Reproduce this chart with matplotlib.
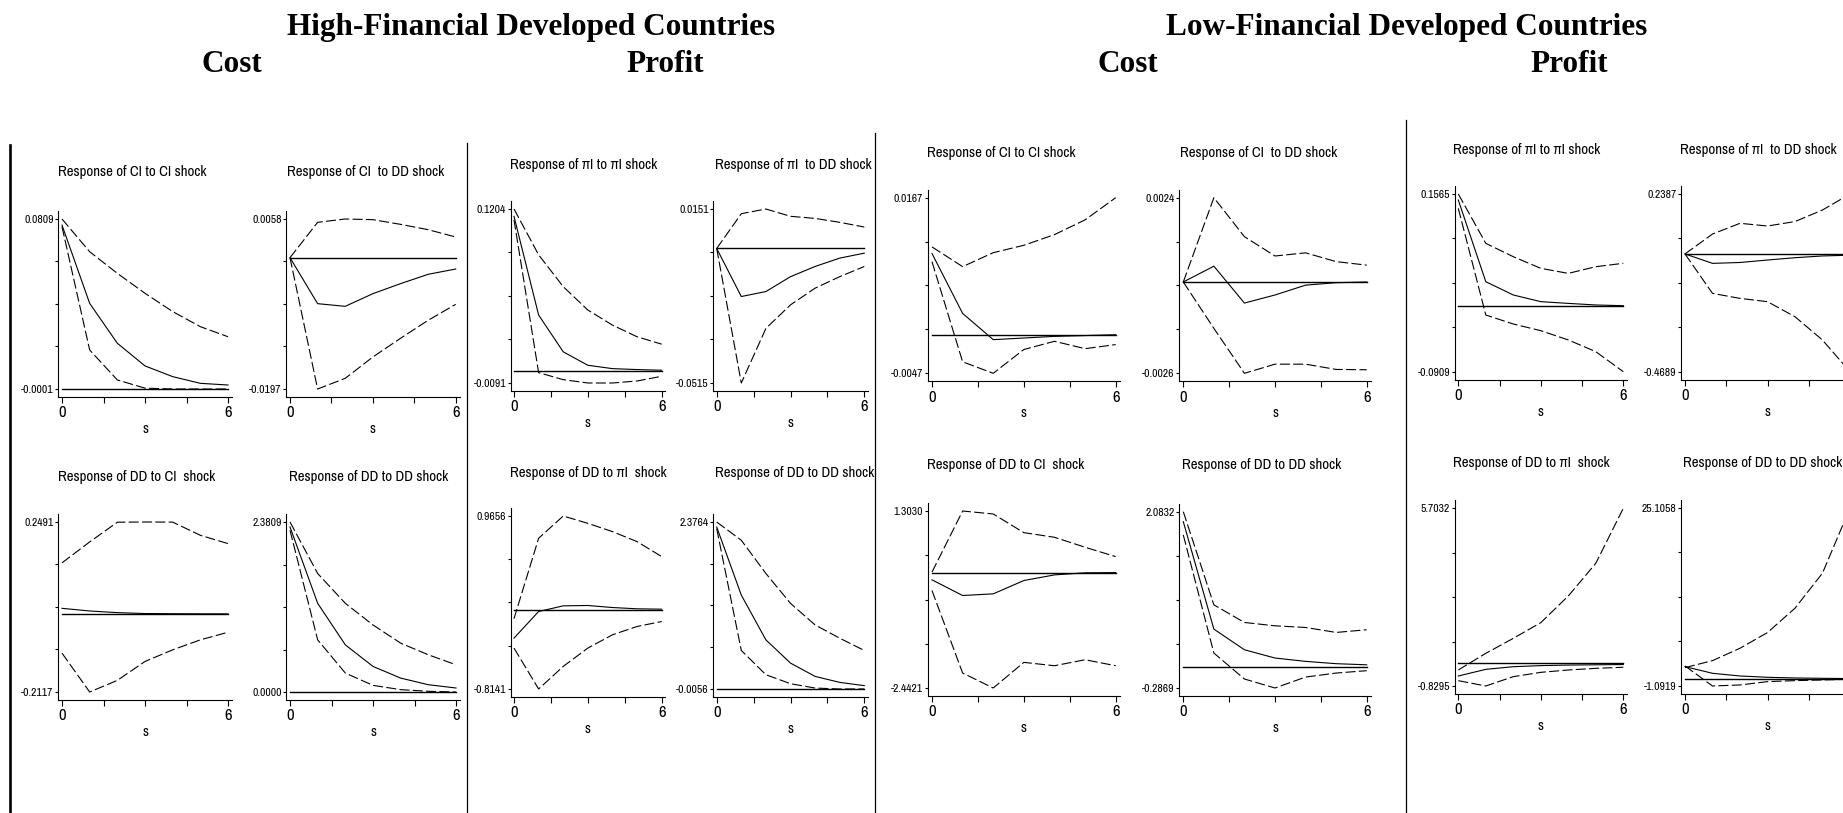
import matplotlib
matplotlib.use("Agg")
import matplotlib.pyplot as plt
from matplotlib import font_manager
from matplotlib.font_manager import FontProperties
from matplotlib.lines import Line2D

# Periods after the shock
steps = [0, 1, 2, 3, 4, 5, 6]

# High-financial developed countries, cost model
hc_ci_ci_irf = [0.0780, 0.0407, 0.0217, 0.0109, 0.0058, 0.0026, 0.0018]
hc_ci_ci_up = [0.0809, 0.0653, 0.0550, 0.0455, 0.0368, 0.0296, 0.0248]
hc_ci_ci_lo = [0.0772, 0.0185, 0.0042, 0.0003, -0.0001, -0.0001, -0.0001]

hc_ci_dd_irf = [0.0, -0.0069, -0.0073, -0.0054, -0.0039, -0.0025, -0.0017]
hc_ci_dd_up = [0.0, 0.0053, 0.0058, 0.0057, 0.0050, 0.0042, 0.0031]
hc_ci_dd_lo = [0.0, -0.0197, -0.0181, -0.0149, -0.0121, -0.0094, -0.0070]

hc_dd_ci_irf = [0.0151, 0.0079, 0.0034, 0.0010, 0.0005, 0.0002, 0.0001]
hc_dd_ci_up = [0.1384, 0.1951, 0.2485, 0.2491, 0.2488, 0.2131, 0.1906]
hc_dd_ci_lo = [-0.1064, -0.2117, -0.1802, -0.1289, -0.0974, -0.0704, -0.0497]

hc_dd_dd_irf = [2.311, 1.242, 0.660, 0.358, 0.195, 0.102, 0.056]
hc_dd_dd_up = [2.3809, 1.660, 1.242, 0.939, 0.684, 0.521, 0.381]
hc_dd_dd_lo = [2.265, 0.730, 0.265, 0.093, 0.033, 0.010, 0.0000]

# High-financial developed countries, profit model
hp_pi_pi_irf = [0.1149, 0.0415, 0.0141, 0.0041, 0.0016, 0.0009, 0.0004]
hp_pi_pi_up = [0.1204, 0.0863, 0.0626, 0.0452, 0.0340, 0.0253, 0.0198]
hp_pi_pi_lo = [0.1124, -0.0014, -0.0066, -0.0091, -0.0091, -0.0076, -0.0041]

hp_pi_dd_irf = [0.0, -0.0184, -0.0165, -0.0108, -0.0069, -0.0037, -0.0018]
hp_pi_dd_up = [0.0, 0.0133, 0.0151, 0.0123, 0.0115, 0.0100, 0.0082]
hp_pi_dd_lo = [0.0, -0.0515, -0.0306, -0.0216, -0.0152, -0.0108, -0.0069]

hp_dd_pi_irf = [-0.2906, -0.0170, 0.0414, 0.0450, 0.0240, 0.0110, 0.0070]
hp_dd_pi_up = [-0.0900, 0.7363, 0.9656, 0.8900, 0.8050, 0.7020, 0.5480]
hp_dd_pi_lo = [-0.3933, -0.8141, -0.5816, -0.3933, -0.2564, -0.1710, -0.1200]

hp_dd_dd_irf = [2.305, 1.334, 0.695, 0.364, 0.174, 0.089, 0.042]
hp_dd_dd_up = [2.3764, 2.116, 1.642, 1.216, 0.908, 0.719, 0.544]
hp_dd_dd_lo = [2.282, 0.544, 0.198, 0.070, 0.008, -0.0056, -0.005]

# Low-financial developed countries, cost model
lc_ci_ci_irf = [0.0099, 0.0026, -0.0006, -0.0004, -0.0002, -0.0001, 0.0]
lc_ci_ci_up = [0.0107, 0.0083, 0.0100, 0.0109, 0.0122, 0.0140, 0.0167]
lc_ci_ci_lo = [0.0089, -0.0033, -0.0047, -0.0018, -0.0008, -0.0017, -0.0012]

lc_ci_dd_irf = [0.0, 0.00045, -0.0006, -0.00037, -0.00009, -0.00002, 0.0]
lc_ci_dd_up = [0.0, 0.0024, 0.00129, 0.00074, 0.00083, 0.00058, 0.00048]
lc_ci_dd_lo = [0.0, -0.00132, -0.0026, -0.00234, -0.00234, -0.00249, -0.0025]

lc_dd_ci_irf = [-0.154, -0.485, -0.450, -0.168, -0.049, -0.005, 0.0]
lc_dd_ci_up = [0.010, 1.3030, 1.240, 0.845, 0.747, 0.536, 0.338]
lc_dd_ci_lo = [-0.380, -2.125, -2.4421, -1.900, -1.971, -1.844, -1.971]

lc_dd_dd_irf = [1.949, 0.505, 0.227, 0.116, 0.071, 0.040, 0.025]
lc_dd_dd_up = [2.0832, 0.831, 0.594, 0.549, 0.527, 0.460, 0.496]
lc_dd_dd_lo = [1.770, 0.183, -0.166, -0.2869, -0.140, -0.086, -0.054]

# Low-financial developed countries, profit model
lp_pi_pi_irf = [0.1481, 0.0344, 0.0159, 0.0066, 0.0042, 0.0020, 0.0010]
lp_pi_pi_up = [0.1565, 0.0878, 0.0692, 0.0530, 0.0460, 0.0553, 0.0600]
lp_pi_pi_lo = [0.1365, -0.0120, -0.0245, -0.0338, -0.0467, -0.0630, -0.0909]

lp_pi_dd_irf = [0.0, -0.0375, -0.0340, -0.0242, -0.0150, -0.0080, -0.0050]
lp_pi_dd_up = [0.0, 0.0793, 0.1220, 0.1112, 0.1290, 0.1750, 0.2387]
lp_pi_dd_lo = [0.0, -0.1570, -0.1770, -0.1900, -0.2500, -0.3430, -0.4689]

lp_dd_pi_irf = [-0.462, -0.217, -0.120, -0.080, -0.060, -0.050, -0.040]
lp_dd_pi_up = [-0.241, 0.372, 0.923, 1.499, 2.480, 3.681, 5.7032]
lp_dd_pi_lo = [-0.633, -0.8295, -0.486, -0.327, -0.241, -0.180, -0.140]

lp_dd_dd_irf = [1.760, 0.777, 0.384, 0.190, 0.090, 0.040, 0.0]
lp_dd_dd_up = [1.612, 2.644, 4.463, 6.773, 10.360, 15.520, 25.1058]
lp_dd_dd_lo = [1.860, -1.0919, -0.940, -0.450, -0.300, -0.200, -0.100]

panel_titles = [
    "Response of CI to CI shock", "Response of CI  to DD shock",
    "Response of DD to CI  shock", "Response of DD to DD shock",
    "Response of πI to πI shock", "Response of πI  to DD shock",
    "Response of DD to πI  shock", "Response of DD to DD shock",
    "Response of CI to CI shock", "Response of CI  to DD shock",
    "Response of DD to CI  shock", "Response of DD to DD shock",
    "Response of πI to πI shock", "Response of πI  to DD shock",
    "Response of DD to πI  shock", "Response of DD to DD shock",
]

panel_series = [
    (hc_ci_ci_irf, hc_ci_ci_up, hc_ci_ci_lo), (hc_ci_dd_irf, hc_ci_dd_up, hc_ci_dd_lo),
    (hc_dd_ci_irf, hc_dd_ci_up, hc_dd_ci_lo), (hc_dd_dd_irf, hc_dd_dd_up, hc_dd_dd_lo),
    (hp_pi_pi_irf, hp_pi_pi_up, hp_pi_pi_lo), (hp_pi_dd_irf, hp_pi_dd_up, hp_pi_dd_lo),
    (hp_dd_pi_irf, hp_dd_pi_up, hp_dd_pi_lo), (hp_dd_dd_irf, hp_dd_dd_up, hp_dd_dd_lo),
    (lc_ci_ci_irf, lc_ci_ci_up, lc_ci_ci_lo), (lc_ci_dd_irf, lc_ci_dd_up, lc_ci_dd_lo),
    (lc_dd_ci_irf, lc_dd_ci_up, lc_dd_ci_lo), (lc_dd_dd_irf, lc_dd_dd_up, lc_dd_dd_lo),
    (lp_pi_pi_irf, lp_pi_pi_up, lp_pi_pi_lo), (lp_pi_dd_irf, lp_pi_dd_up, lp_pi_dd_lo),
    (lp_dd_pi_irf, lp_dd_pi_up, lp_dd_pi_lo), (lp_dd_dd_irf, lp_dd_dd_up, lp_dd_dd_lo),
]

# Panel placement in pixels: where step 0 / step 6 fall, and where the max / min ticks sit
W, H = 1843, 813
px_x0 = [62, 290, 62, 290, 514, 716.7, 514, 716.7,
         932, 1183.3, 932, 1183.3, 1458.3, 1685, 1458.3, 1685]
px_x6 = [228, 455.7, 228, 456, 661.7, 864.3, 661.7, 864.3,
         1115.7, 1366.7, 1115.7, 1366.7, 1623.3, 1850, 1623.3, 1850]
px_ytop = [219, 219, 522, 522, 209, 209, 516, 522,
           197.7, 197.7, 511, 511.7, 194, 194, 508.3, 508]
px_ybot = [389, 389, 692, 692, 383, 383, 689, 689,
           373.3, 373.3, 688, 688, 371.7, 371.7, 686, 686]
px_title = [(58, 172), (287, 172), (58, 477), (289, 477),
            (510, 165), (715, 165), (510, 473), (715, 473),
            (927, 153), (1180, 153), (927, 465), (1182, 465),
            (1453, 150), (1680, 150), (1453, 463), (1683, 463)]

# Group headings and separators
headings = [("High-Financial Developed Countries", 531, 28),
            ("Cost", 232, 65), ("Profit", 665, 65),
            ("Low-Financial Developed Countries", 1407, 28),
            ("Cost", 1128, 65), ("Profit", 1569, 65)]
separators = [(10, 145, 1.9), (467, 143, 0.9), (875, 133, 0.9), (1406, 120, 0.9)]


def narrow_font():
    # first condensed sans face that is installed, else plain DejaVu Sans
    faces = font_manager.fontManager.ttflist
    prefs = [lambda f: "Narrow" in f.name,
             lambda f: "Condensed" in f.name,
             lambda f: f.stretch in ("condensed", "semi-condensed", "extra-condensed")]
    for test in prefs:
        for f in faces:
            if test(f) and f.style == "normal" and f.weight in (400, "normal", "regular"):
                return FontProperties(fname=f.fname), True
    return FontProperties(family="DejaVu Sans"), False


base_font, is_narrow = narrow_font()
scale = 1.15 if is_narrow else 1.0


def pfont(size):
    fp = base_font.copy()
    fp.set_size(size * scale)
    return fp


def fx(x):
    return x / W


def fy(y):
    return 1 - y / H


fig = plt.figure(figsize=(W / 100, H / 100), dpi=100)
fig.patch.set_facecolor("white")

pad_l, pad_r, pad_y = 0.023, 0.025, 0.045
for i, (irf, up, lo) in enumerate(panel_series):
    x0, x6, yt, yb = px_x0[i], px_x6[i], px_ytop[i], px_ybot[i]
    sx, sy = x6 - x0, yb - yt
    left, right = x0 - pad_l * sx, x6 + pad_r * sx
    top, bottom = yt - pad_y * sy, yb + pad_y * sy
    ax = fig.add_axes([fx(left), fy(bottom), (right - left) / W, (bottom - top) / H])

    ymin = min(irf + up + lo)
    ymax = max(irf + up + lo)
    span = ymax - ymin

    ax.plot(steps, [0] * len(steps), color="black", lw=1.0)
    ax.plot(steps, irf, color="black", lw=0.8)
    ax.plot(steps, up, color="black", lw=0.8, dashes=(9, 3))
    ax.plot(steps, lo, color="black", lw=0.8, dashes=(9, 3))

    ax.set_xlim(-pad_l * 6, 6 + pad_r * 6)
    ax.set_ylim(ymin - pad_y * span, ymax + pad_y * span)

    # the last step label falls outside the figure for the rightmost column
    last = "6" if x6 < W else ""
    ax.set_xticks([0, 1.5, 3, 4.5, 6])
    ax.set_xticklabels(["0", "", "", "", last], fontproperties=pfont(10.5))
    ax.set_yticks([ymin + span * k / 4 for k in range(5)])
    ax.set_yticklabels([f"{ymin:.4f}", "", "", "", f"{ymax:.4f}"],
                       fontproperties=pfont(7.3))
    ax.tick_params(axis="x", direction="out", length=4, width=0.8, pad=2)
    ax.tick_params(axis="y", direction="out", length=2.2, width=0.8, pad=1)
    for side in ("top", "right"):
        ax.spines[side].set_visible(False)
    for side in ("left", "bottom"):
        ax.spines[side].set_linewidth(0.8)
    ax.patch.set_alpha(0)

    tx, ty = px_title[i]
    fig.text(fx(tx), fy(ty), panel_titles[i], ha="left", va="center",
             fontproperties=pfont(9.3))
    fig.text(fx((x0 + x6) / 2), fy(yb + 40), "s", ha="center", va="center",
             fontproperties=pfont(9))

for text, x, y in headings:
    fig.text(fx(x), fy(y), text, ha="center", va="center",
             fontfamily="Liberation Serif", fontweight="bold", fontsize=22.5)

for x, y_top, lw in separators:
    fig.add_artist(Line2D([fx(x), fx(x)], [fy(y_top), 0], color="black", lw=lw))

fig.savefig("out.png", dpi=100)
